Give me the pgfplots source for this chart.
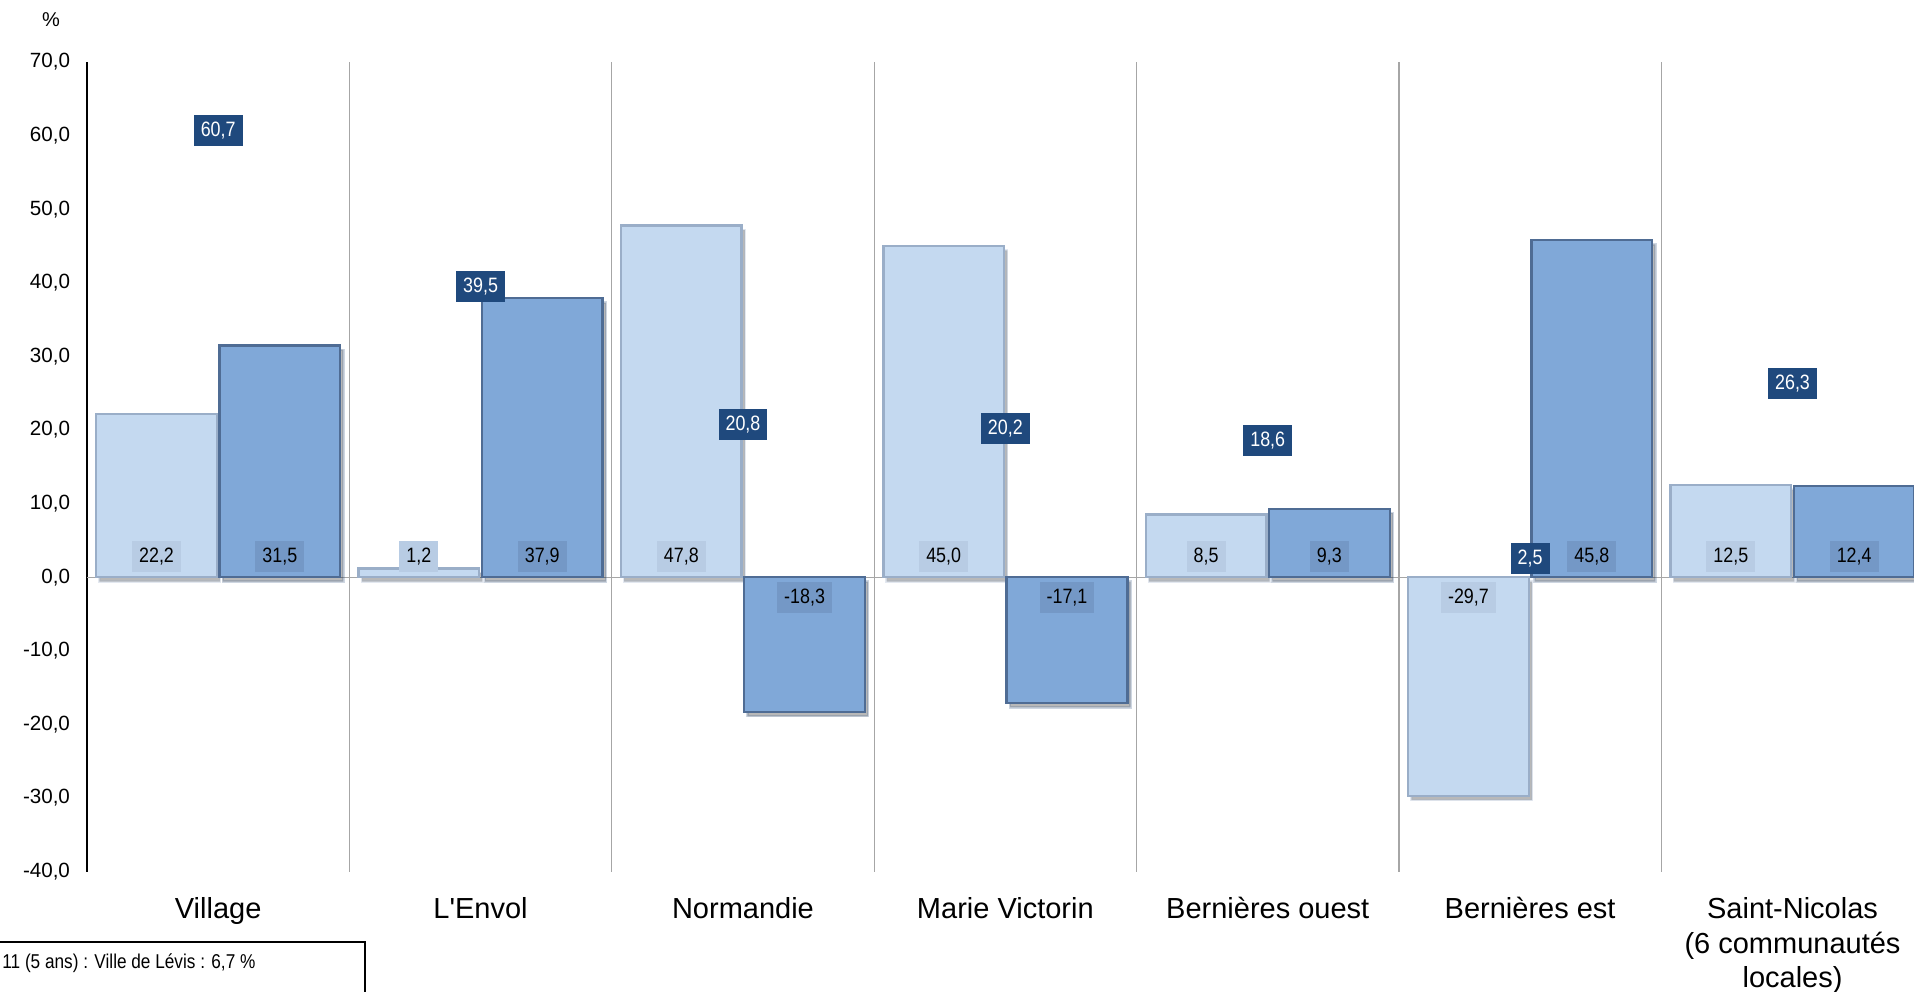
\documentclass[border=0pt]{standalone}
\usepackage{pgfplots}
\usepackage{pgfplotstable}
\pgfplotsset{compat=1.18}
\usepackage{fontspec}
\setmainfont{Liberation Sans}[Ligatures=TeXOff]
\newfontfamily\narrowfont[FakeStretch=0.86]{Liberation Sans}
\definecolor{lightbar}{HTML}{C4D9F0}
\definecolor{lightedge}{HTML}{9AAEC8}
\definecolor{lightlab}{HTML}{B8CCE4}
\definecolor{darkbar}{HTML}{80A8D8}
\definecolor{darkedge}{HTML}{4F6C94}
\definecolor{darklab}{HTML}{7498C6}
\definecolor{navy}{HTML}{1F497D}
\definecolor{sepgray}{HTML}{A6A6A6}

\pgfplotstableread{
x a b c
0 22.2 31.5 60.7
1 1.2 37.9 39.5
2 47.8 -18.3 20.8
3 45.0 -17.1 20.2
4 8.5 9.3 18.6
5 -29.7 45.8 2.5
6 12.5 12.4 26.3
}\datatable

\pgfkeys{/pgf/number format/fixed, /pgf/number format/fixed zerofill,
  /pgf/number format/precision=1, /pgf/number format/use comma,
  /pgf/number format/assume math mode=true}

\begin{document}
\begin{tikzpicture}
\begin{axis}[
  at={(0,0)}, anchor=south west,
  scale only axis, width=913.5bp, height=404.8bp,
  xmin=-0.5, xmax=6.463, ymin=-40, ymax=70,
  ytick={-40,-30,...,70},
  xtick={0,...,6},
  xticklabels={Village, L'Envol, Normandie, Marie Victorin, Bernières ouest, Bernières est, {Saint-Nicolas\\(6 communautés\\locales)}},
  xtick style={draw=none}, ytick style={draw=none},
  minor xtick={0.5,1.5,...,5.5},
  xminorgrids, minor x grid style={sepgray, line width=0.6bp},
  minor tick length=0pt,
  axis lines*=left,
  x axis line style={draw=none},
  y axis line style={black, line width=1.1bp},
  extra y ticks={0}, extra y tick labels={},
  extra y tick style={grid=major},
  major grid style={sepgray, line width=0.6bp},
  yticklabel style={font=\fontsize{10.3bp}{12bp}\selectfont, xshift=-5bp},
  xticklabel style={font=\fontsize{14.5bp}{17.2bp}\selectfont, align=center, yshift=-9.5bp},
  visualization depends on={y \as \rawy},
  barshadow/.style={preaction={fill=black, opacity=0.28, transform canvas={xshift=1.6bp, yshift=-2.2bp}}},
]
\addplot[ybar, bar width=0.46, bar shift=-0.235, fill=lightbar, draw=lightedge, line width=1.2bp, barshadow,
  nodes near coords,
  every node near coord/.append style={anchor=center, fill=lightlab, text=black,
    inner xsep=3.5bp, inner ysep=3.2bp, text height=7.5bp, text depth=1.5bp,
    font=\narrowfont\fontsize{10.4bp}{12bp}\selectfont, xshift=-30.83bp,
    yshift={((\rawy>0)?(2.8-\rawy):(-2.8-\rawy))*3.6938}}]
  table[x=x, y=a] {\datatable};
\addplot[ybar, bar width=0.46, bar shift=0.235, fill=darkbar, draw=darkedge, line width=1.2bp, barshadow,
  nodes near coords,
  every node near coord/.append style={anchor=center, fill=darklab, text=black,
    inner xsep=3.5bp, inner ysep=3.2bp, text height=7.5bp, text depth=1.5bp,
    font=\narrowfont\fontsize{10.4bp}{12bp}\selectfont, xshift=30.83bp,
    yshift={((\rawy>0)?(2.8-\rawy):(-2.8-\rawy))*3.6938}}]
  table[x=x, y=b] {\datatable};
\addplot[draw=none, mark=none,
  nodes near coords,
  every node near coord/.append style={anchor=center, fill=navy, text=white,
    inner xsep=3.5bp, inner ysep=3.2bp, text height=7.5bp, text depth=1.5bp,
    font=\narrowfont\fontsize{10.4bp}{12bp}\selectfont}]
  table[x=x, y=c] {\datatable};
\end{axis}
\node[font=\fontsize{10bp}{12bp}\selectfont] at (-18bp,425.8bp) {\%};
\draw[black, line width=0.6bp] (-50bp,-80bp) rectangle (139bp,-35.2bp);
\node[anchor=west, inner sep=0pt, font=\narrowfont\fontsize{10bp}{12bp}\selectfont] at (-42.5bp,-45.7bp) {11 (5 ans) : Ville de Lévis : 6,7 \%};
\pgfresetboundingbox
\path[use as bounding box] (-43.5bp,-60.2bp) rectangle (913.5bp,435.8bp);
\end{tikzpicture}
\end{document}
